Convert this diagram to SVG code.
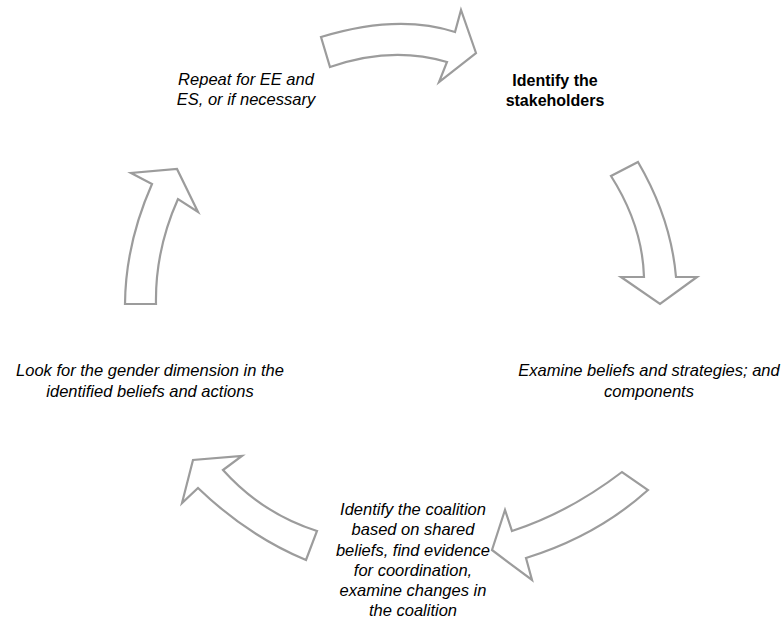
<svg xmlns="http://www.w3.org/2000/svg" width="784" height="623" viewBox="0 0 784 623">
<style>
.arr{fill:#ffffff;stroke:#9c9c9c;stroke-width:2.2;stroke-linejoin:miter}
.t{font-family:"Liberation Sans",Arial,sans-serif;font-size:16.5px;font-style:italic;fill:#000000;text-anchor:middle}
.b{font-family:"Liberation Sans",Arial,sans-serif;font-size:16px;font-weight:bold;fill:#000000;text-anchor:middle}
</style>
<rect width="784" height="623" fill="#ffffff"/>
<g id="connectors">
<path id="arrow1" class="arr" d="M321,37 Q398,13.5 455,32 L461,10 L476,53 L439,82 L447,62 Q391.5,45.5 330,67 Z"/>
<path id="arrow2" class="arr" d="M638,162 Q671,218.5 676,277 L697,277 L660,304 L621,277 L644,277 Q642.5,225.5 611,176 Z"/>
<path id="arrow3" class="arr" d="M622,472 Q569,512.5 512,531 L505,510 L492,550 L532,580 L526,558 Q597,536 648,490 Z"/>
<path id="arrow4" class="arr" d="M317,531 Q262,513.5 223,470 L242,456 L193,460 L182,503 L198,488 Q248,536 306,560 Z"/>
<path id="arrow5" class="arr" d="M125,304 Q125.5,244 152,184 L131,173 L177,169 L198,212 L178,199 Q155,250.5 156,304 Z"/>
</g>
<g id="node-stakeholders">
<text class="b" x="555" y="86">Identify the</text>
<text class="b" x="555" y="106">stakeholders</text>
</g>
<g id="node-examine">
<text class="t" x="649" y="376">Examine beliefs and strategies; and</text>
<text class="t" x="649" y="397">components</text>
</g>
<g id="node-coalition">
<text class="t" x="413" y="515">Identify the coalition</text>
<text class="t" x="413" y="535">based on shared</text>
<text class="t" x="413" y="556">beliefs, find evidence</text>
<text class="t" x="413" y="576">for coordination,</text>
<text class="t" x="413" y="596">examine changes in</text>
<text class="t" x="413" y="616">the coalition</text>
</g>
<g id="node-gender">
<text class="t" x="150" y="376">Look for the gender dimension in the</text>
<text class="t" x="150" y="397">identified beliefs and actions</text>
</g>
<g id="node-repeat">
<text class="t" x="246" y="85">Repeat for EE and</text>
<text class="t" x="246" y="105">ES, or if necessary</text>
</g>
</svg>
